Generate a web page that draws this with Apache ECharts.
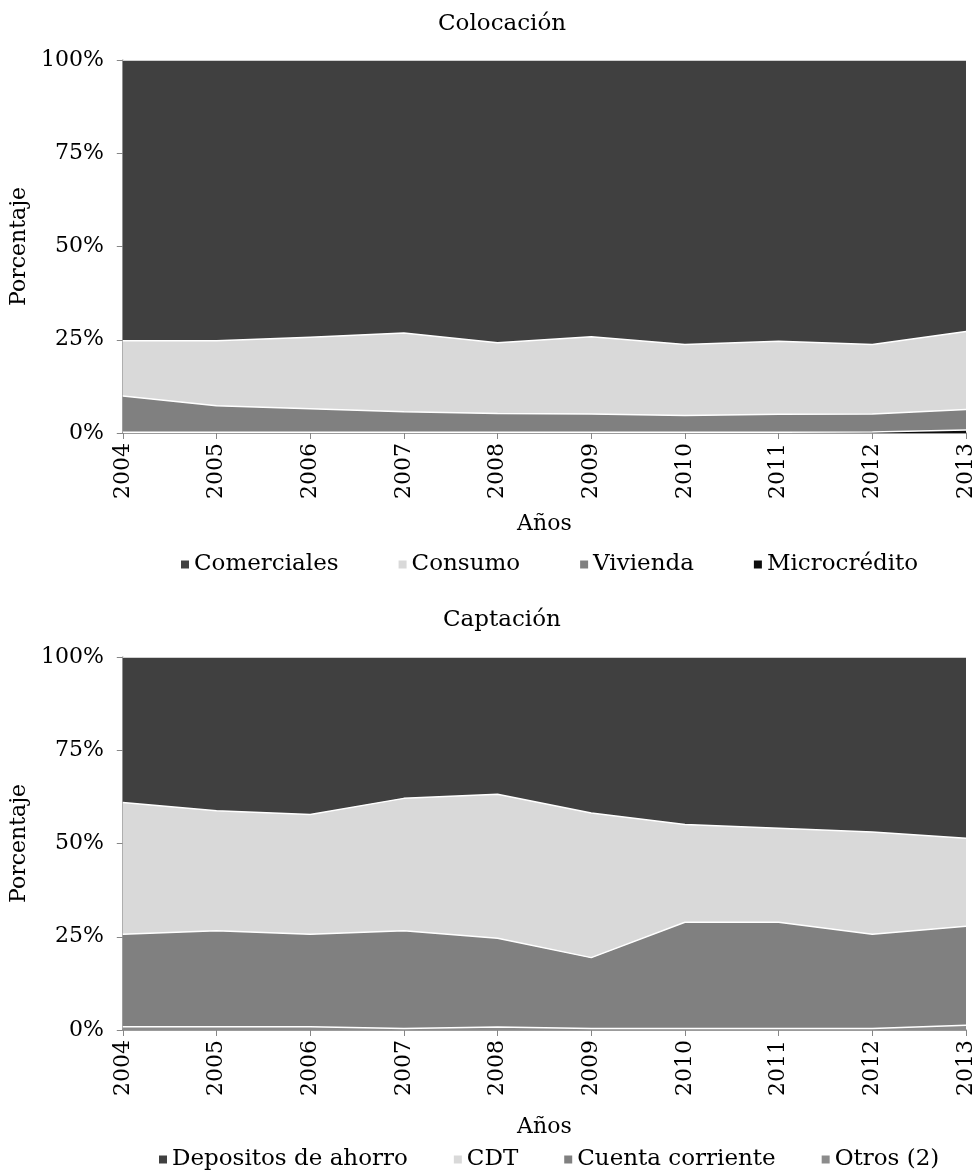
<!DOCTYPE html>
<html>
<head>
<meta charset="utf-8">
<script src="https://cdn.jsdelivr.net/npm/echarts@6/dist/echarts.min.js"></script>
<style>
  html, body { margin: 0; padding: 0; background: #fff; }
  #chart { width: 979px; height: 1176px; }
</style>
</head>
<body>
<div id="chart"></div>
<script>
const years = ['2004', '2005', '2006', '2007', '2008', '2009', '2010', '2011', '2012', '2013']

// Colocación (porcentaje de cada tipo de cartera)
const comerciales = [75.3, 75.3, 74.3, 73.2, 75.8, 74.2, 76.3, 75.4, 76.3, 72.8]
const consumo = [14.8, 17.4, 19.2, 21.1, 19.0, 20.7, 19.0, 19.6, 18.6, 20.9]
const vivienda = [9.7, 7.1, 6.3, 5.5, 5.0, 4.9, 4.5, 4.8, 4.8, 5.5]
const microcredito = [0.2, 0.2, 0.2, 0.2, 0.2, 0.2, 0.2, 0.2, 0.3, 0.8]

// Captación
const depositosAhorro = [39.0, 41.2, 42.2, 37.9, 36.8, 41.8, 44.9, 45.9, 46.9, 48.6]
const cdt = [35.3, 32.2, 32.1, 35.5, 38.6, 38.8, 26.2, 25.2, 27.4, 23.6]
const cuentaCorriente = [24.8, 25.7, 24.8, 26.2, 23.8, 19.0, 28.5, 28.5, 25.3, 26.5]
const otros = [0.9, 0.9, 0.9, 0.4, 0.8, 0.4, 0.4, 0.4, 0.4, 1.3]

const font = 'DejaVu Serif'
const axisColor = '#868686'

function xAxisFor(gridIndex, nameGap) {
  return {
    type: 'category',
    gridIndex,
    data: years,
    boundaryGap: false,
    name: 'Años',
    nameLocation: 'middle',
    nameGap,
    nameTextStyle: { fontFamily: font, fontSize: 22, color: '#000' },
    axisLine: { lineStyle: { color: axisColor, width: 1.5 } },
    axisTick: { show: true, length: 6, alignWithLabel: true, lineStyle: { color: axisColor } },
    axisLabel: { rotate: 90, margin: 10, fontFamily: font, fontSize: 22, color: '#000' },
    splitLine: { show: false }
  }
}

function yAxisFor(gridIndex) {
  return {
    type: 'value',
    gridIndex,
    min: 0,
    max: 100,
    interval: 25,
    name: 'Porcentaje',
    nameLocation: 'middle',
    nameGap: 88,
    nameTextStyle: { fontFamily: font, fontSize: 22, color: '#000' },
    axisLine: { show: true, lineStyle: { color: axisColor, width: 1.5 } },
    axisTick: { show: true, length: 6, lineStyle: { color: axisColor } },
    axisLabel: { formatter: '{value}%', margin: 19, fontFamily: font, fontSize: 22, color: '#000' },
    splitLine: { show: true, lineStyle: { color: '#d9d9d9' } }
  }
}

function area(name, data, color, idx, stack) {
  return {
    name,
    type: 'line',
    xAxisIndex: idx,
    yAxisIndex: idx,
    stack,
    data,
    symbol: 'none',
    lineStyle: { color: '#fff', width: 1.5 },
    areaStyle: { color, opacity: 1 },
    itemStyle: { color },
    emphasis: { disabled: true }
  }
}

const chart = echarts.init(document.getElementById('chart'))

chart.setOption({
  animation: false,
  title: [
    { text: 'Colocación', left: 438, top: 13, padding: 0, textStyle: { fontFamily: font, fontSize: 23, fontWeight: 'normal', color: '#000' } },
    { text: 'Captación', left: 443, top: 609, padding: 0, textStyle: { fontFamily: font, fontSize: 23, fontWeight: 'normal', color: '#000' } }
  ],
  legend: [
    {
      data: ['Comerciales', 'Consumo', 'Vivienda', 'Microcrédito'],
      left: 181, top: 553, padding: 0,
      icon: 'rect', itemWidth: 8, itemHeight: 8, itemGap: 60,
      textStyle: { fontFamily: font, fontSize: 23, color: '#000' }
    },
    {
      data: ['Depositos de ahorro', 'CDT', 'Cuenta corriente', 'Otros (2)'],
      left: 159, top: 1148, padding: 0,
      icon: 'rect', itemWidth: 8, itemHeight: 8, itemGap: 46,
      textStyle: { fontFamily: font, fontSize: 23, color: '#000' }
    }
  ],
  grid: [
    { left: 122, top: 60, width: 844, height: 373 },
    { left: 122, top: 657, width: 844, height: 373 }
  ],
  xAxis: [xAxisFor(0, 80), xAxisFor(1, 86)],
  yAxis: [yAxisFor(0), yAxisFor(1)],
  series: [
    area('Microcrédito', microcredito, '#0d0d0d', 0, 'a'),
    area('Vivienda', vivienda, '#808080', 0, 'a'),
    area('Consumo', consumo, '#d9d9d9', 0, 'a'),
    area('Comerciales', comerciales, '#404040', 0, 'a'),
    area('Otros (2)', otros, '#8c8c8c', 1, 'b'),
    area('Cuenta corriente', cuentaCorriente, '#808080', 1, 'b'),
    area('CDT', cdt, '#d9d9d9', 1, 'b'),
    area('Depositos de ahorro', depositosAhorro, '#404040', 1, 'b')
  ]
})
</script>
</body>
</html>
